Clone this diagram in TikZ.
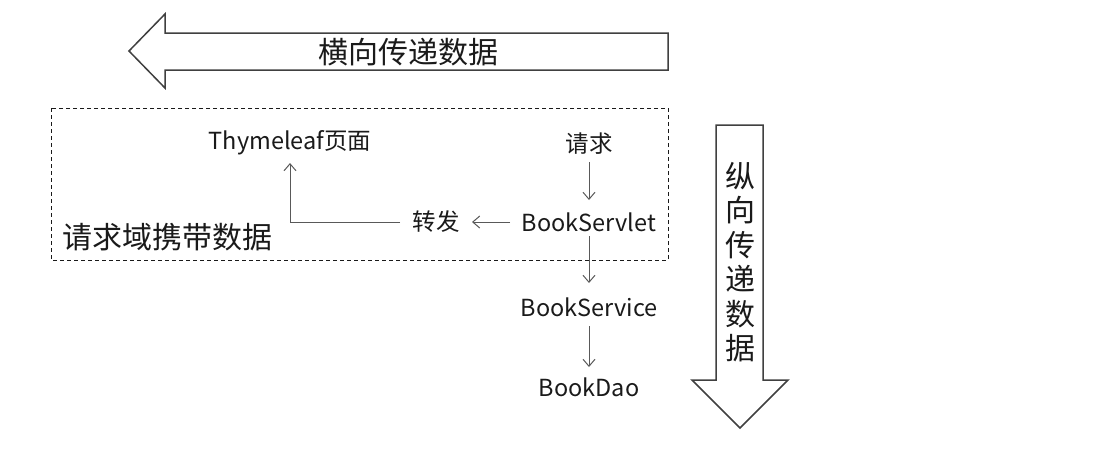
\documentclass[tikz,border=0pt]{standalone}
\usepackage{fontspec}
\newfontfamily\cjk{Noto Sans CJK SC}
\usetikzlibrary{arrows.meta}
\definecolor{outl}{HTML}{404040}
\definecolor{conn}{HTML}{595959}
\definecolor{txt}{HTML}{1A1A1A}
\tikzset{
  lbl/.style={font=\cjk\fontsize{23.5}{28}\selectfont, text=txt, inner sep=0pt},
  biglbl/.style={font=\cjk\fontsize{30}{34}\selectfont, text=txt, inner sep=0pt},
  bigarrow/.style={draw=outl, line width=1.5pt, fill=white, line join=miter},
  flow/.style={draw=conn, line width=1pt, -{Straight Barb[length=7pt,width=12pt]}},
  reqbox/.style={draw=txt, line width=0.9pt, dash pattern=on 4pt off 3pt}
}
\begin{document}
\begin{tikzpicture}[x=1pt,y=-1pt]
\useasboundingbox[fill=white] (0,0) rectangle (1094,459);
% horizontal big arrow
\draw[bigarrow] (129,51) -- (165,14) -- (165,33) -- (668,33) -- (668,70) -- (165,70) -- (165,88) -- cycle;
\node[biglbl] (htext) at (408,52) {横向传递数据};
% vertical big arrow
\draw[bigarrow] (716,125) -- (763,125) -- (763,380) -- (788,380) -- (740,428) -- (692,380) -- (716,380) -- cycle;
\node[biglbl, align=center, font=\cjk\fontsize{30}{34.5}\selectfont] (vtext) at (740,262) {纵\\向\\传\\递\\数\\据};
% request domain
\draw[reqbox] (51,108) rectangle (668,260);
\node[biglbl] (dlabel) at (167,237) {请求域携带数据};
% nodes
\node[lbl] (thy) at (290,143) {Thymeleaf页面};
\node[lbl] (req) at (589,144) {请求};
\node[lbl] (servlet) at (589,222) {BookServlet};
\node[lbl] (fwd) at (436,222) {转发};
\node[lbl] (service) at (589,307) {BookService};
\node[lbl] (dao) at (589,387) {BookDao};
% connectors
\draw[flow, shorten <=18pt, shorten >=22pt] (req.center) -- (servlet.center);
\draw[flow, shorten <=79pt, shorten >=36pt] (servlet.center) -- (fwd.center);
\draw[flow, shorten <=36pt, shorten >=20pt] (fwd.center) -| (thy.center);
\draw[flow, shorten <=14pt, shorten >=24pt] (servlet.center) -- (service.center);
\draw[flow, shorten <=19pt, shorten >=20pt] (service.center) -- (dao.center);
\end{tikzpicture}
\end{document}
